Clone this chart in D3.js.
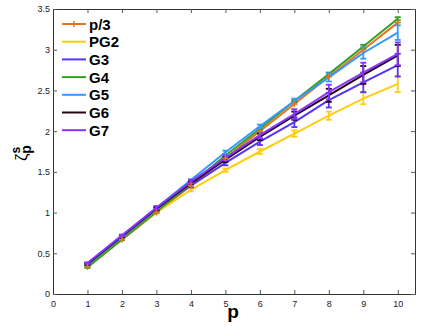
<!DOCTYPE html>
<html>
<head>
<meta charset="utf-8">
<script src="https://cdnjs.cloudflare.com/ajax/libs/d3/7.8.5/d3.min.js"></script>
<style>
    body { margin: 0; background: #fff; }
    text { font-family: "Liberation Sans", Arial, sans-serif; }
</style>
</head>
<body>
<div id="chart"></div>
<script>
// data
var pValues = [1, 2, 3, 4, 5, 6, 7, 8, 9, 10];
var seriesNames = ["p/3", "PG2", "G3", "G4", "G5", "G6", "G7"];
var seriesColors = ["#e8731c", "#ffcc11", "#5533ff", "#33a11f", "#3399ff", "#250515", "#8833ff"];

var zetaP3 = [0.333, 0.667, 1.0, 1.333, 1.667, 2.0, 2.333, 2.667, 3.0, 3.333];
var zetaPG2 = [0.35, 0.68, 1.0, 1.28, 1.52, 1.75, 1.97, 2.19, 2.40, 2.58];
var zetaG3 = [0.37, 0.70, 1.04, 1.33, 1.61, 1.87, 2.11, 2.38, 2.60, 2.81];
var zetaG4 = [0.33, 0.67, 1.01, 1.35, 1.70, 2.03, 2.37, 2.70, 3.04, 3.38];
var zetaG5 = [0.36, 0.71, 1.06, 1.40, 1.74, 2.06, 2.37, 2.66, 2.96, 3.21];
var zetaG6 = [0.37, 0.71, 1.05, 1.36, 1.65, 1.93, 2.19, 2.44, 2.69, 2.93];
var zetaG7 = [0.38, 0.72, 1.06, 1.38, 1.67, 1.95, 2.21, 2.48, 2.72, 2.95];

// error bar half widths
var errP3 = [0, 0, 0, 0, 0, 0, 0, 0, 0, 0];
var errPG2 = [0.01, 0.01, 0.01, 0.02, 0.02, 0.03, 0.04, 0.05, 0.07, 0.10];
var errG3 = [0.01, 0.01, 0.02, 0.02, 0.03, 0.04, 0.06, 0.09, 0.12, 0.14];
var errG4 = [0.01, 0.01, 0.01, 0.01, 0.01, 0.01, 0.01, 0.02, 0.02, 0.02];
var errG5 = [0.01, 0.01, 0.01, 0.01, 0.02, 0.02, 0.03, 0.05, 0.07, 0.09];
var errG6 = [0.01, 0.01, 0.02, 0.02, 0.03, 0.04, 0.05, 0.08, 0.11, 0.13];
var errG7 = [0.01, 0.01, 0.02, 0.02, 0.03, 0.04, 0.06, 0.09, 0.12, 0.14];

var xTicks = [0, 1, 2, 3, 4, 5, 6, 7, 8, 9, 10];
var yTicks = [0, 0.5, 1, 1.5, 2, 2.5, 3, 3.5];

(function () {
    var width = 421,
        height = 327;

    var left = 53, right = 415, top = 9, bottom = 294;

    var svg = d3.select("#chart")
        .append("svg")
        .attr("width", width)
        .attr("height", height);

    var x = d3.scaleLinear().domain([0, 10.5]).range([left, right]);
    var y = d3.scaleLinear().domain([0, 3.5]).range([bottom, top]);

    var allValues = [zetaP3, zetaPG2, zetaG3, zetaG4, zetaG5, zetaG6, zetaG7];
    var allErrs = [errP3, errPG2, errG3, errG4, errG5, errG6, errG7];

    var series = seriesNames.map(function (name, i) {
        return {
            name: name,
            color: seriesColors[i],
            points: pValues.map(function (p, j) {
                return { p: p, v: allValues[i][j], e: allErrs[i][j] };
            })
        };
    });

    // frame ticks, pointing inwards on all four sides
    var tickLen = 4;
    var plain = function (d) { return String(d); };
    var frame = svg.append("g").attr("class", "frame");

    frame.append("g")
        .attr("transform", "translate(0," + bottom + ")")
        .call(d3.axisBottom(x).tickValues(xTicks).tickFormat(plain).tickSizeInner(-tickLen).tickSizeOuter(0).tickPadding(7))
        .call(styleAxis);
    frame.append("g")
        .attr("transform", "translate(0," + top + ")")
        .call(d3.axisTop(x).tickValues(xTicks).tickSizeInner(-tickLen).tickSizeOuter(0).tickFormat(""))
        .call(styleAxis);
    frame.append("g")
        .attr("transform", "translate(" + left + ",0)")
        .call(d3.axisLeft(y).tickValues(yTicks).tickFormat(plain).tickSizeInner(-tickLen).tickSizeOuter(0).tickPadding(3))
        .call(styleAxis);
    frame.append("g")
        .attr("transform", "translate(" + right + ",0)")
        .call(d3.axisRight(y).tickValues(yTicks).tickSizeInner(-tickLen).tickSizeOuter(0).tickFormat(""))
        .call(styleAxis);

    function styleAxis(g) {
        g.select(".domain").attr("stroke", "#333").attr("stroke-width", 1);
        g.selectAll(".tick line").attr("stroke", "#555");
        g.selectAll(".tick text")
            .attr("fill", "#222")
            .style("font-size", "9px");
    }

    var line = d3.line()
        .x(function (d) { return x(d.p); })
        .y(function (d) { return y(d.v); });

    var groups = svg.selectAll(".series")
        .data(series)
        .enter().append("g")
        .attr("class", "series");

    groups.append("path")
        .attr("d", function (d) { return line(d.points); })
        .attr("fill", "none")
        .attr("stroke", function (d) { return d.color; })
        .attr("stroke-width", 2);

    // error bars with caps
    var capW = 3;
    var bars = groups.selectAll(".err")
        .data(function (d) {
            return d.points.filter(function (pt) { return pt.e > 0; })
                .map(function (pt) { return { p: pt.p, v: pt.v, e: pt.e, color: d.color }; });
        })
        .enter().append("g")
        .attr("class", "err")
        .attr("stroke", function (d) { return d.color; })
        .attr("stroke-width", 1.8);

    bars.append("line")
        .attr("x1", function (d) { return x(d.p); })
        .attr("x2", function (d) { return x(d.p); })
        .attr("y1", function (d) { return y(d.v - d.e); })
        .attr("y2", function (d) { return y(d.v + d.e); });
    bars.append("line")
        .attr("x1", function (d) { return x(d.p) - capW; })
        .attr("x2", function (d) { return x(d.p) + capW; })
        .attr("y1", function (d) { return y(d.v - d.e); })
        .attr("y2", function (d) { return y(d.v - d.e); });
    bars.append("line")
        .attr("x1", function (d) { return x(d.p) - capW; })
        .attr("x2", function (d) { return x(d.p) + capW; })
        .attr("y1", function (d) { return y(d.v + d.e); })
        .attr("y2", function (d) { return y(d.v + d.e); });

    // "+" markers for p/3
    var plus = svg.append("g")
        .attr("stroke", seriesColors[0])
        .attr("stroke-width", 1.5)
        .selectAll("g")
        .data(series[0].points)
        .enter().append("g")
        .attr("transform", function (d) { return "translate(" + x(d.p) + "," + y(d.v) + ")"; });
    plus.append("line").attr("x1", -3).attr("x2", 3);
    plus.append("line").attr("y1", -3).attr("y2", 3);

    // legend
    var legend = svg.selectAll(".legend")
        .data(series)
        .enter().append("g")
        .attr("class", "legend")
        .attr("transform", function (d, i) { return "translate(62," + (24 + i * 17.7) + ")"; });

    legend.append("line")
        .attr("x1", 0).attr("x2", 24)
        .attr("stroke", function (d) { return d.color; })
        .attr("stroke-width", 2);
    legend.filter(function (d, i) { return i === 0; })
        .append("line")
        .attr("x1", 12).attr("x2", 12).attr("y1", -3).attr("y2", 3)
        .attr("stroke", seriesColors[0])
        .attr("stroke-width", 1.5);
    legend.append("text")
        .attr("x", 27)
        .attr("y", 5.5)
        .style("font-size", "15px")
        .style("font-weight", "bold")
        .attr("fill", "#000")
        .text(function (d) { return d.name; });

    // axis titles
    svg.append("text")
        .attr("x", 233)
        .attr("y", 318)
        .attr("text-anchor", "middle")
        .style("font-size", "19px")
        .style("font-weight", "bold")
        .text("p");

    var yTitle = svg.append("text")
        .attr("transform", "translate(27,161) rotate(-90)")
        .style("font-size", "17px");
    yTitle.append("tspan").text("ζ");
    yTitle.append("tspan").attr("dy", -7).style("font-size", "12px").style("font-weight", "bold").text("s");
    yTitle.append("tspan").attr("dx", -7).attr("dy", 11).style("font-size", "14px").style("font-weight", "bold").text("p");
})();
</script>
</body>
</html>
